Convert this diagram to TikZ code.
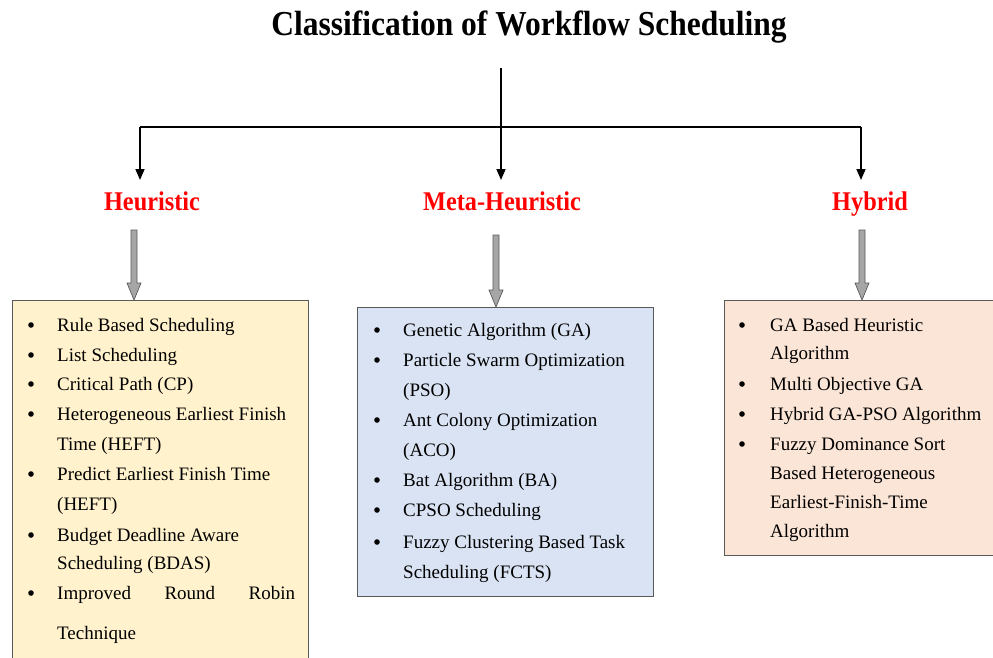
\documentclass[tikz,border=0pt]{standalone}
\usepackage{fontspec}
\setmainfont{Liberation Serif}
\usetikzlibrary{arrows.meta}
\definecolor{heurfill}{HTML}{FFF2CC}
\definecolor{metafill}{HTML}{DAE3F3}
\definecolor{hybfill}{HTML}{FBE5D6}
\definecolor{headred}{HTML}{FF0000}
\definecolor{blockgray}{HTML}{A6A6A6}
\definecolor{edgegray}{HTML}{595959}
\tikzset{
  titletext/.style={font=\fontsize{35}{38}\selectfont\bfseries, inner sep=0pt, anchor=base},
  headtext/.style={font=\fontsize{27}{29}\selectfont\bfseries, text=headred, inner sep=0pt, anchor=base},
  itemtext/.style={font=\fontsize{19}{21}\selectfont, inner sep=0pt, anchor=base west},
  bul/.style={circle, fill=black, inner sep=0pt, minimum size=5.6pt},
  listbox/.style={draw=edgegray, line width=0.8pt},
  tree/.style={line width=2.2pt, black},
  treearrow/.style={line width=1.6pt, black, -{Triangle[length=11pt,width=9pt]}},
  blockarrow/.style={fill=blockgray, draw=edgegray, line width=0.7pt, line join=miter},
}
% grey block arrow pointing down from (#1,#2) to (#1,#3)
\newcommand\downblock[3]{%
  \draw[blockarrow] (#1-3,#2) -- (#1+3,#2) -- (#1+3,#3-17) -- (#1+7,#3-17)
    -- (#1,#3) -- (#1-7,#3-17) -- (#1-3,#3-17) -- cycle;}
% one list entry: name, x, baseline y, text
\newcommand\entry[4]{\node[itemtext] (#1) at (#2,#3) {#4};}
\newcommand\bull[3]{\node[bul] (#1) at (#2,#3-6) {};}
\begin{document}
\begin{tikzpicture}[x=1pt,y=-1pt]
\useasboundingbox (0,0) rectangle (993,657);

% title and classes
\node[titletext] (title) at (529,35) {\scalebox{0.90}[1]{Classification of Workflow Scheduling}};
\node[headtext] (heur) at (152,210) {\scalebox{0.90}[1]{Heuristic}};
\node[headtext] (meta) at (502,210) {\scalebox{0.90}[1]{Meta-Heuristic}};
\node[headtext] (hyb)  at (870,210) {\scalebox{0.90}[1]{Hybrid}};

% tree connectors
\coordinate (root) at (501,68);
\coordinate (bl) at (140,127);
\coordinate (bm) at (501,127);
\coordinate (br) at (861,127);
\coordinate (al) at (140,180);
\coordinate (am) at (501,180);
\coordinate (ar) at (861,180);
\draw[tree] (root) -- (bm);
\draw[tree, line join=miter] (bl) -- (br);
\draw[treearrow] (bl) -- (al);
\draw[treearrow] (bm) -- (am);
\draw[treearrow] (br) -- (ar);

% list boxes
\fill[heurfill] (12,300) rectangle (308,660);
\draw[listbox] (12,662) -- (12,300) -- (308,300) -- (308,662);
\draw[listbox, fill=metafill] (357,307) rectangle (653,596);
\draw[listbox, fill=hybfill] (724,300) rectangle (995,555);

% block arrows from classes to lists
\downblock{134}{230}{300}
\downblock{496}{235}{307}
\downblock{862}{230}{300}

% Heuristic entries
\bull{hb1}{31}{331}\entry{h1}{57}{331}{Rule Based Scheduling}
\bull{hb2}{31}{361}\entry{h2}{57}{361}{List Scheduling}
\bull{hb3}{31}{390}\entry{h3}{57}{390}{Critical Path (CP)}
\bull{hb4}{31}{420}\entry{h4}{57}{420}{Heterogeneous Earliest Finish}
\entry{h4b}{57}{450}{Time (HEFT)}
\bull{hb5}{31}{480}\entry{h5}{57}{480}{Predict Earliest Finish Time}
\entry{h5b}{57}{510}{(HEFT)}
\bull{hb6}{31}{541}\entry{h6}{57}{541}{Budget Deadline Aware}
\entry{h6b}{57}{569}{Scheduling (BDAS)}
\bull{hb7}{31}{599}\entry{h7}{57}{599}{\makebox[238pt][s]{Improved\hfill Round\hfill Robin}}
\entry{h7b}{57}{639}{Technique}

% Meta-Heuristic entries
\bull{mb1}{377}{336}\entry{m1}{403}{336}{Genetic Algorithm (GA)}
\bull{mb2}{377}{366}\entry{m2}{403}{366}{Particle Swarm Optimization}
\entry{m2b}{403}{396}{(PSO)}
\bull{mb3}{377}{426}\entry{m3}{403}{426}{Ant Colony Optimization}
\entry{m3b}{403}{456}{(ACO)}
\bull{mb4}{377}{486}\entry{m4}{403}{486}{Bat Algorithm (BA)}
\bull{mb5}{377}{516}\entry{m5}{403}{516}{CPSO Scheduling}
\bull{mb6}{377}{548}\entry{m6}{403}{548}{Fuzzy Clustering Based Task}
\entry{m6b}{403}{578}{Scheduling (FCTS)}

% Hybrid entries
\bull{yb1}{742}{331}\entry{y1}{770}{331}{GA Based Heuristic}
\entry{y1b}{770}{359}{Algorithm}
\bull{yb2}{742}{390}\entry{y2}{770}{390}{Multi Objective GA}
\bull{yb3}{742}{420}\entry{y3}{770}{420}{Hybrid GA-PSO Algorithm}
\bull{yb4}{742}{450}\entry{y4}{770}{450}{Fuzzy Dominance Sort}
\entry{y4b}{770}{479}{Based Heterogeneous}
\entry{y4c}{770}{508}{Earliest-Finish-Time}
\entry{y4d}{770}{537}{Algorithm}
\end{tikzpicture}
\end{document}
